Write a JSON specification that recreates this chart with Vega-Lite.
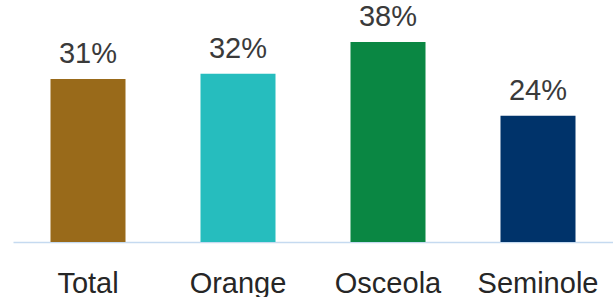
{
  "$schema": "https://vega.github.io/schema/vega-lite/v6.json",
  "width": 600,
  "height": 242,
  "padding": {"left": 13, "top": 0, "right": 0, "bottom": 55},
  "autosize": {"type": "none"},
  "background": "white",
  "data": {
    "values": [
      {"county": "Total", "pct": 31, "label": "31%"},
      {"county": "Orange", "pct": 32, "label": "32%"},
      {"county": "Osceola", "pct": 38, "label": "38%"},
      {"county": "Seminole", "pct": 24, "label": "24%"}
    ]
  },
  "encoding": {
    "x": {
      "field": "county",
      "type": "nominal",
      "sort": null,
      "scale": {"paddingInner": 0.5, "paddingOuter": 0.25},
      "axis": {
        "title": null,
        "labelAngle": 0,
        "ticks": false,
        "domainColor": "#C5DAF0",
        "domainWidth": 1.5,
        "labelFont": "Liberation Sans",
        "labelFontSize": 29,
        "labelColor": "#262626",
        "labelPadding": 27
      }
    },
    "y": {
      "field": "pct",
      "type": "quantitative",
      "scale": {"domain": [0, 46]},
      "axis": null
    }
  },
  "layer": [
    {
      "mark": {"type": "bar"},
      "encoding": {
        "color": {
          "field": "county",
          "type": "nominal",
          "scale": {
            "domain": ["Total", "Orange", "Osceola", "Seminole"],
            "range": ["#996A1A", "#26BDBE", "#0A8743", "#00336A"]
          },
          "legend": null
        }
      }
    },
    {
      "mark": {
        "type": "text",
        "baseline": "alphabetic",
        "dy": -16,
        "font": "Liberation Sans",
        "fontSize": 29,
        "color": "#3A3A3A"
      },
      "encoding": {"text": {"field": "label"}}
    }
  ],
  "config": {"view": {"stroke": null}}
}
